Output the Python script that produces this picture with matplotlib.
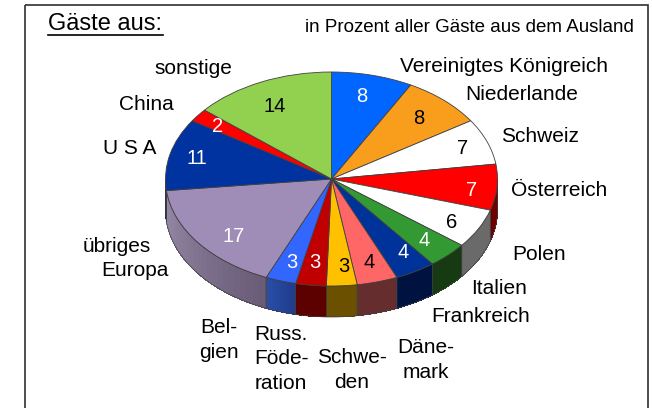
#!/usr/bin/env python3
"""Gaeste aus dem Ausland - 3D look pie chart."""

import matplotlib
matplotlib.use('Agg')
import matplotlib.pyplot as plt
from matplotlib.colors import to_rgb
from matplotlib.patches import Polygon, Rectangle
import numpy as np

plt.rcParams['font.family'] = ['Liberation Sans', 'DejaVu Sans']

# clockwise from 12 o'clock
values = [8, 8, 7, 7, 6, 4, 4, 4, 3, 3, 3, 17, 11, 2, 14]
labels = ['Vereinigtes Königreich', 'Niederlande', 'Schweiz', 'Österreich', 'Polen',
          'Italien', 'Frankreich', 'Däne-\nmark', 'Schwe-\nden', 'Russ.\nFöde-\nration',
          'Bel-\ngien', 'übriges', 'Europa', 'U S A', 'China', 'sonstige']
colors = ['#0066FF', '#F99D1C', '#FFFFFF', '#FF0000', '#FFFFFF', '#339933', '#003399', '#FF6666',
          '#FFC000', '#C00000', '#3366FF', '#9F8DB7', '#0033A0', '#FF0000', '#92D050']
# rim colour at the clockwise start and end of each slice
wall_start = ['#002C70', '#6B4408', '#6A6A6A', '#6E0000', '#6A6A6A', '#163A12', '#00123F', '#652D2D',
              '#6B5000', '#5C0000', '#1E3C8C', '#6A5C78', '#00226E', '#6E0000', '#3F5A22']
wall_end = ['#002C70', '#6B4408', '#6A6A6A', '#6E0000', '#6A6A6A', '#163A12', '#00123F', '#652D2D',
            '#6B5000', '#5C0000', '#2A4FA8', '#958AA6', '#00226E', '#6E0000', '#3F5A22']
value_colors = ['white', 'black', 'black', 'white', 'black', 'white', 'white', 'black',
                'black', 'white', 'white', 'white', 'white', 'white', 'black']

# text anchors in pixels of the 652x408 image
label_xy = [(504, 67), (522, 95), (540, 136), (559, 191), (539, 255), (499, 289), (481, 317),
            (426, 360), (352, 370), (281, 359), (219, 340), (117, 247), (135, 271), (130, 149), (146, 104), (193, 69)]
value_xy = [(362, 97), (419, 118), (463, 148), (472, 190), (452, 223), (424, 240), (403, 252),
            (369, 262), (344, 267), (315, 263), (292, 263), (234, 237), (197, 158), (218, 127), (275, 107)]

W, H = 652, 408
CX, CY, RX, RY, DEPTH = 331.5, 179, 166, 107, 31

fig = plt.figure(figsize=(W / 100, H / 100), dpi=100)

# full figure axes in pixel coordinates for frame and text
bg = fig.add_axes([0, 0, 1, 1])
bg.set_xlim(0, W)
bg.set_ylim(H, 0)
bg.axis('off')
bg.patch.set_visible(False)
bg.add_patch(Rectangle((25, 4.5), 623, 420, fill=False, ec='#303030', lw=1.2))

bg.text(48, 24, 'Gäste aus:', fontsize=17, ha='left', va='center', color='black')
bg.plot([48, 163], [35, 35], color='black', lw=1.2)
bg.text(634, 28, 'in Prozent aller Gäste aus dem Ausland', fontsize=13.5, ha='right', va='center')

# pie axes, unit circle squashed to the ellipse
ax = fig.add_axes([(CX - RX) / W, 1 - (CY + RY) / H, 2 * RX / W, 2 * RY / H])
wedges, _ = ax.pie(values, colors=colors, startangle=90, counterclock=False, radius=1,
                   wedgeprops={'edgecolor': '#404040', 'linewidth': 0.6})
ax.set_aspect('auto')
ax.set_xlim(-1, 1)
ax.set_ylim(-1, 1)

depth = DEPTH / RY
for wedge, c_start, c_end in zip(wedges, wall_start, wall_end):
    # pie runs from 90 down to -270 degrees here, only the front half of the rim shows
    t1, t2 = max(wedge.theta1, -180), min(wedge.theta2, 0)
    if t2 <= t1:
        continue
    edges = np.radians(np.linspace(t1, t2, 25))
    for i in range(len(edges) - 1):
        t = np.linspace(edges[i], edges[i + 1], 4)
        x, y = np.cos(t), np.sin(t)
        pts = np.r_[np.c_[x, y], np.c_[x, y - depth][::-1]]
        mix = 1 - i / (len(edges) - 2)
        col = np.array(to_rgb(c_start)) * (1 - mix) + np.array(to_rgb(c_end)) * mix
        ax.add_patch(Polygon(pts, closed=True, fc=col, ec='none', antialiased=False,
                             clip_on=False, zorder=0.5))
    # outline of the rim piece
    t = np.radians(np.linspace(t1, t2, 40))
    x, y = np.cos(t), np.sin(t)
    pts = np.r_[np.c_[x, y], np.c_[x, y - depth][::-1]]
    ax.add_patch(Polygon(pts, closed=True, fill=False, ec='#404040', lw=0.5, clip_on=False, zorder=0.6))

ax.set_zorder(1)
bg.set_zorder(2)

for (x, y), v, c in zip(value_xy, values, value_colors):
    bg.text(x, y, str(v), fontsize=14.5, color=c, ha='center', va='center', zorder=5)

for (x, y), name in zip(label_xy, labels):
    bg.text(x, y, name, fontsize=15, ha='center', va='center', linespacing=1.35)

fig.savefig('out.png', dpi=100)
